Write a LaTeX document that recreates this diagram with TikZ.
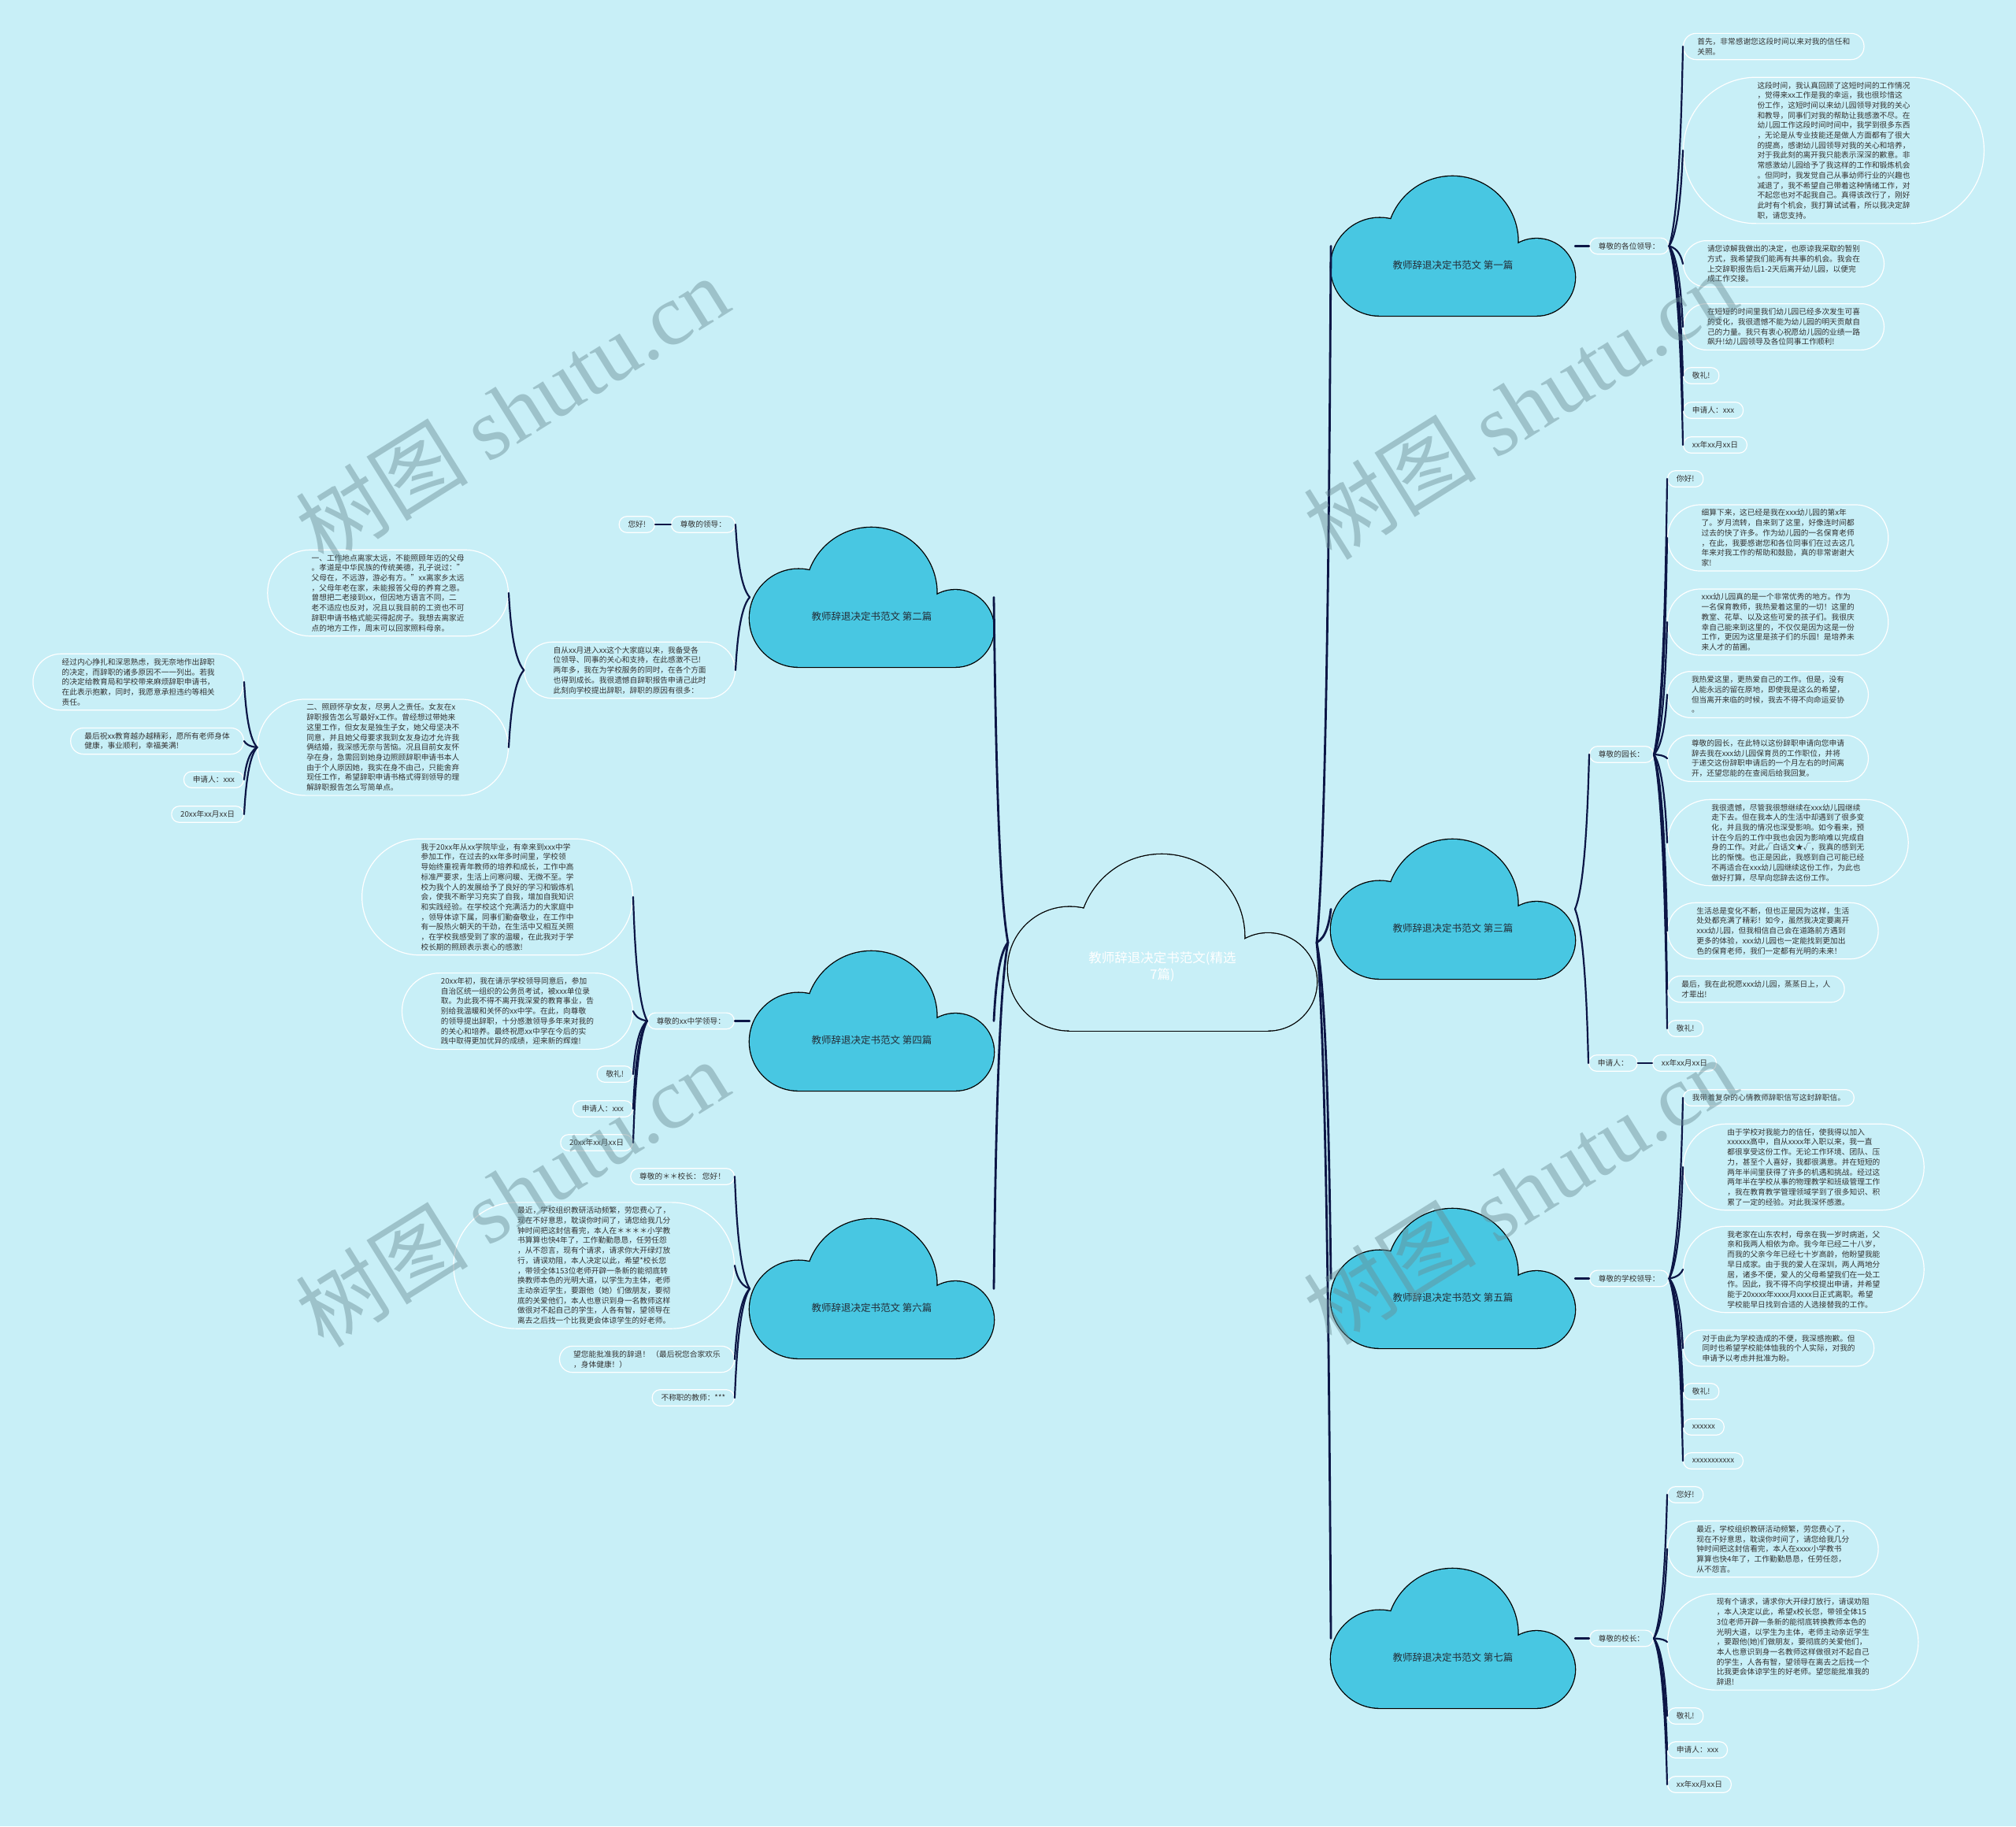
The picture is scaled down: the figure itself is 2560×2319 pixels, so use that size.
\documentclass[tikz,border=0pt]{standalone}
\usepackage{fontspec}
\setmainfont{Noto Sans CJK SC}
\newfontfamily\wmcjk{Noto Sans CJK SC}
\newfontfamily\wmlat{Liberation Serif}
\usetikzlibrary{calc}
\definecolor{bgc}{RGB}{200,239,247}
\definecolor{cloudblue}{RGB}{72,199,226}
\definecolor{lnkc}{RGB}{12,22,70}
\definecolor{txtc}{RGB}{51,51,51}
\definecolor{cldtxt}{RGB}{35,45,55}
\definecolor{wmc}{RGB}{105,140,148}
\newcommand\bubfont{\fontsize{9.7}{12.7}\selectfont}
\newcommand\cloudshape[4]{%
 \pgfmathsetmacro\cldS{#3/1175}%
 \pgfmathsetmacro\cldLx{#1+235*\cldS}%
 \pgfmathsetmacro\cldLy{#2+435*\cldS}%
 \pgfmathsetmacro\cldLr{235*\cldS}%
 \pgfmathsetmacro\cldBx{#1+585*\cldS}%
 \pgfmathsetmacro\cldBy{#2+315*\cldS}%
 \pgfmathsetmacro\cldBr{315*\cldS}%
 \pgfmathsetmacro\cldRx{#1+990*\cldS}%
 \pgfmathsetmacro\cldRy{#2+485*\cldS}%
 \pgfmathsetmacro\cldRr{185*\cldS}%
 \pgfmathsetmacro\cldBot{#2+670*\cldS}%
 \draw[line width=2.6pt,draw=black] (\cldLx,\cldLy) circle[radius=\cldLr pt] (\cldBx,\cldBy) circle[radius=\cldBr pt] (\cldRx,\cldRy) circle[radius=\cldRr pt] (\cldLx,\cldLy) rectangle (\cldRx,\cldBot);
 \fill[#4] (\cldLx,\cldLy) circle[radius=\cldLr pt];
 \fill[#4] (\cldBx,\cldBy) circle[radius=\cldBr pt];
 \fill[#4] (\cldRx,\cldRy) circle[radius=\cldRr pt];
 \fill[#4] (\cldLx,\cldLy) rectangle (\cldRx,\cldBot);
}
\newcommand\cnx[3][]{\draw[conn,#1] let \p1=(#2), \p2=(#3) in (\p1) .. controls ({\x1+0.7*(\x2-\x1)},{\y1+0.15*(\y2-\y1)}) and ({\x2-0.1*(\x2-\x1)},{\y2-0.35*(\y2-\y1)}) .. (\p2);}
\tikzset{
 bub/.style={rectangle, rounded corners={6.35*#1+3.6}, minimum height={12.7*#1+7.9}, inner xsep={6.35*#1+5}, inner ysep=3pt, draw=white, line width=1.2pt, font=\bubfont, text=txtc, align=left},
 bub/.default=1,
 rb/.style={bub=#1, anchor=west}, rb/.default=1,
 lb/.style={bub=#1, anchor=east}, lb/.default=1,
 conn/.style={draw=lnkc, line width=2.2pt, line cap=round, rounded corners=0pt},
 mainconn/.style={conn, line width=2.8pt},
 cloudbox/.style={rectangle, draw=none, inner sep=0pt, outer sep=0pt, minimum width=310pt, minimum height=176.8pt},
 cloudlbl/.style={text=cldtxt, font=\fontsize{12.5}{15}\selectfont, inner sep=0pt},
 wm/.style={rotate=32, text=wmc, text opacity=0.45, font=\fontsize{110}{110}\selectfont, inner sep=0pt}
}
\begin{document}
\begin{tikzpicture}[x=1pt,y=-1pt]
\useasboundingbox (0,0) rectangle (2560,2319);
\fill[bgc] (0,0) rectangle (2560,2319);

% clouds
\cloudshape{1280}{1085}{392}{bgc}
\cloudshape{1690}{224}{310}{cloudblue}
\cloudshape{1690}{1066}{310}{cloudblue}
\cloudshape{1690}{1535}{310}{cloudblue}
\cloudshape{1690}{1992}{310}{cloudblue}
\cloudshape{952}{670}{310}{cloudblue}
\cloudshape{952}{1208}{310}{cloudblue}
\cloudshape{952}{1548}{310}{cloudblue}

\node[cloudbox, minimum width=392pt, minimum height=223.5pt] (ctr) at (1476,1196.8) {};
\node[text=white, font=\fontsize{16.5}{21}\selectfont, align=center, inner sep=0pt] (ctrt) at (1476,1228) {教师辞退决定书范文(精选\\7篇)};

\node[cloudbox] (c1) at (1845,312.4) {};
\node[cloudbox] (c3) at (1845,1154.4) {};
\node[cloudbox] (c5) at (1845,1623.4) {};
\node[cloudbox] (c7) at (1845,2080.4) {};
\node[cloudbox] (c2) at (1107,758.4) {};
\node[cloudbox] (c4) at (1107,1296.4) {};
\node[cloudbox] (c6) at (1107,1636.4) {};
\node[cloudlbl] (c1t) at (1845,337) {教师辞退决定书范文 第一篇};
\node[cloudlbl] (c3t) at (1845,1179) {教师辞退决定书范文 第三篇};
\node[cloudlbl] (c5t) at (1845,1648) {教师辞退决定书范文 第五篇};
\node[cloudlbl] (c7t) at (1845,2105) {教师辞退决定书范文 第七篇};
\node[cloudlbl] (c2t) at (1107,783) {教师辞退决定书范文 第二篇};
\node[cloudlbl] (c4t) at (1107,1321) {教师辞退决定书范文 第四篇};
\node[cloudlbl] (c6t) at (1107,1661) {教师辞退决定书范文 第六篇};

% ---------- branch 1 ----------
\node[rb] (L1) at (2018,312.4) {尊敬的各位领导：};
\node[rb=2] (n11) at (2137,59) {首先，非常感谢您这段时间以来对我的信任和\\关照。};
\node[rb=14] (n12) at (2137,191) {这段时间，我认真回顾了这短时间的工作情况\\
，觉得来xx工作是我的幸运，我也很珍惜这\\
份工作，这短时间以来幼儿园领导对我的关心\\
和教导，同事们对我的帮助让我感激不尽。在\\
幼儿园工作这段时间时间中，我学到很多东西\\
，无论是从专业技能还是做人方面都有了很大\\
的提高，感谢幼儿园领导对我的关心和培养，\\
对于我此刻的离开我只能表示深深的歉意。非\\
常感激幼儿园给予了我这样的工作和锻炼机会\\
。但同时，我发觉自己从事幼师行业的兴趣也\\
减退了，我不希望自己带着这种情绪工作，对\\
不起您也对不起我自己。真得该改行了，刚好\\
此时有个机会，我打算试试看，所以我决定辞\\
职，请您支持。};
\node[rb=4] (n13) at (2137,335) {请您谅解我做出的决定，也原谅我采取的暂别\\
方式，我希望我们能再有共事的机会。我会在\\
上交辞职报告后1-2天后离开幼儿园，以便完\\
成工作交接。};
\node[rb=4] (n14) at (2137,415) {在短短的时间里我们幼儿园已经多次发生可喜\\
的变化，我很遗憾不能为幼儿园的明天贡献自\\
己的力量。我只有衷心祝愿幼儿园的业绩一路\\
飙升!幼儿园领导及各位同事工作顺利!};
\node[rb] (n15) at (2137,477) {敬礼!};
\node[rb] (n16) at (2137,521) {申请人：xxx};
\node[rb] (n17) at (2137,565) {xx年xx月xx日};

% ---------- branch 3 ----------
\node[rb] (L3a) at (2018,958) {尊敬的园长：};
\node[rb] (L3b) at (2017,1350) {申请人：};
\node[rb] (n3d) at (2098,1350) {xx年xx月xx日};
\node[rb] (n31) at (2117,608) {你好!};
\node[rb=6] (n32) at (2117,683) {细算下来，这已经是我在xxx幼儿园的第x年\\
了。岁月流转，自来到了这里，好像连时间都\\
过去的快了许多。作为幼儿园的一名保育老师\\
，在此，我要感谢您和各位同事们在过去这几\\
年来对我工作的帮助和鼓励，真的非常谢谢大\\
家!};
\node[rb=6] (n33) at (2117,790) {xxx幼儿园真的是一个非常优秀的地方。作为\\
一名保育教师，我热爱着这里的一切！这里的\\
教室、花草、以及这些可爱的孩子们。我很庆\\
幸自己能来到这里的，不仅仅是因为这是一份\\
工作，更因为这里是孩子们的乐园！是培养未\\
来人才的苗圃。};
\node[rb=4] (n34) at (2117,882) {我热爱这里，更热爱自己的工作。但是，没有\\
人能永远的留在原地，即使我是这么的希望，\\
但当离开来临的时候，我去不得不向命运妥协\\
。};
\node[rb=4] (n35) at (2117,963) {尊敬的园长，在此特以这份辞职申请向您申请\\
辞去我在xxx幼儿园保育员的工作职位，并将\\
于递交这份辞职申请后的一个月左右的时间离\\
开，还望您能的在查阅后给我回复。};
\node[rb=8] (n36) at (2117,1070) {我很遗憾，尽管我很想继续在xxx幼儿园继续\\
走下去。但在我本人的生活中却遇到了很多变\\
化，并且我的情况也深受影响。如今看来，预\\
计在今后的工作中我也会因为影响难以完成自\\
身的工作。对此√白话文★√，我真的感到无\\
比的惭愧。也正是因此，我感到自己可能已经\\
不再适合在xxx幼儿园继续这份工作，为此也\\
做好打算，尽早向您辞去这份工作。};
\node[rb=5] (n37) at (2117,1182) {生活总是变化不断，但也正是因为这样，生活\\
处处都充满了精彩！如今，虽然我决定要离开\\
xxx幼儿园，但我相信自己会在道路前方遇到\\
更多的体验，xxx幼儿园也一定能找到更加出\\
色的保育老师，我们一定都有光明的未来！};
\node[rb=2] (n38) at (2117,1256) {最后，我在此祝愿xxx幼儿园，蒸蒸日上，人\\
才辈出!};
\node[rb] (n39) at (2117,1306) {敬礼!};

% ---------- branch 5 ----------
\node[rb] (L5) at (2018,1623.4) {尊敬的学校领导：};
\node[rb] (n51) at (2137,1394) {我带着复杂的心情教师辞职信写这封辞职信。};
\node[rb=8] (n52) at (2137,1482) {由于学校对我能力的信任，使我得以加入\\
xxxxxx高中，自从xxxx年入职以来，我一直\\
都很享受这份工作。无论工作环境、团队、压\\
力，甚至个人喜好，我都很满意。并在短短的\\
两年半间里获得了许多的机遇和挑战。经过这\\
两年半在学校从事的物理教学和班级管理工作\\
，我在教育教学管理领域学到了很多知识、积\\
累了一定的经验。对此我深怀感激。};
\node[rb=8] (n53) at (2137,1612) {我老家在山东农村，母亲在我一岁时病逝，父\\
亲和我两人相依为命。我今年已经二十八岁，\\
而我的父亲今年已经七十岁高龄，他盼望我能\\
早日成家。由于我的爱人在深圳，两人两地分\\
居，诸多不便，爱人的父母希望我们在一处工\\
作。因此，我不得不向学校提出申请，并希望\\
能于20xxxx年xxxx月xxxx日正式离职。希望\\
学校能早日找到合适的人选接替我的工作。};
\node[rb=3] (n54) at (2137,1712) {对于由此为学校造成的不便，我深感抱歉。但\\
同时也希望学校能体恤我的个人实际，对我的\\
申请予以考虑并批准为盼。};
\node[rb] (n55) at (2137,1767) {敬礼!};
\node[rb] (n56) at (2137,1812) {xxxxxx};
\node[rb] (n57) at (2137,1855) {xxxxxxxxxxx};

% ---------- branch 7 ----------
\node[rb] (L7) at (2018,2080.4) {尊敬的校长：};
\node[rb] (n71) at (2117,1898) {您好!};
\node[rb=5] (n72) at (2117,1967) {最近，学校组织教研活动频繁，劳您费心了，\\
现在不好意思，耽误你时间了，请您给我几分\\
钟时间把这封信看完，本人在xxxx小学教书\\
算算也快4年了，工作勤勤恳恳，任劳任怨，\\
从不怨言。};
\node[rb=9] (n73) at (2117,2085) {现有个请求，请求你大开绿灯放行，请误劝阻\\
，本人决定以此，希望x校长您，带领全体15\\
3位老师开辟一条新的能彻底转换教师本色的\\
光明大道，以学生为主体，老师主动亲近学生\\
，要跟他(她)们做朋友，要彻底的关爱他们，\\
本人也意识到身一名教师这样做很对不起自己\\
的学生，人各有智，望领导在离去之后找一个\\
比我更会体谅学生的好老师。望您能批准我的\\
辞退!};
\node[rb] (n74) at (2117,2179) {敬礼!};
\node[rb] (n75) at (2117,2222) {申请人：xxx};
\node[rb] (n76) at (2117,2266) {xx年xx月xx日};

% ---------- branch 2 ----------
\node[lb] (L2) at (934,666) {尊敬的领导：};
\node[lb] (n2h) at (832,666) {您好!};
\node[lb=5] (n2a) at (934,851) {自从xx月进入xx这个大家庭以来，我备受各\\
位领导、同事的关心和支持，在此感激不已!\\
两年多，我在为学校服务的同时，在各个方面\\
也得到成长。我很遗憾自辞职报告申请己此时\\
此刻向学校提出辞职，辞职的原因有很多：};
\node[lb=8] (n2b) at (646,753) {一、工作地点离家太远，不能照顾年迈的父母\\
。孝道是中华民族的传统美德，孔子说过："\\
父母在，不远游，游必有方。"xx离家乡太远\\
，父母年老在家，未能报答父母的养育之恩。\\
曾想把二老接到xx，但因地方语言不同，二\\
老不适应也反对，况且以我目前的工资也不可\\
辞职申请书格式能买得起房子。我想去离家近\\
点的地方工作，周末可以回家照料母亲。};
\node[lb=9] (n2c) at (646,949) {二、照顾怀孕女友，尽男人之责任。女友在x\\
辞职报告怎么写最好x工作。曾经想过带她来\\
这里工作，但女友是独生子女，她父母坚决不\\
同意，并且她父母要求我到女友身边才允许我\\
俩结婚，我深感无奈与苦恼。况且目前女友怀\\
孕在身，急需回到她身边照顾辞职申请书本人\\
由于个人原因她，我实在身不由己，只能舍弃\\
现任工作，希望辞职申请书格式得到领导的理\\
解辞职报告怎么写简单点。};
\node[lb=5] (n2d) at (310,866) {经过内心挣扎和深思熟虑，我无奈地作出辞职\\
的决定，而辞职的诸多原因不一一列出。若我\\
的决定给教育局和学校带来麻烦辞职申请书，\\
在此表示抱歉，同时，我愿意承担违约等相关\\
责任。};
\node[lb=2] (n2e) at (310,941) {最后祝xx教育越办越精彩，愿所有老师身体\\
健康，事业顺利，幸福美满!};
\node[lb] (n2f) at (310,990) {申请人：xxx};
\node[lb] (n2g) at (310,1034) {20xx年xx月xx日};

% ---------- branch 4 ----------
\node[lb] (L4) at (933,1296.4) {尊敬的xx中学领导：};
\node[lb=11] (n41) at (804,1139) {我于20xx年从xx学院毕业，有幸来到xxx中学\\
参加工作，在过去的xx年多时间里，学校领\\
导始终重视青年教师的培养和成长，工作中高\\
标准严要求，生活上问寒问暖、无微不至。学\\
校为我个人的发展给予了良好的学习和锻炼机\\
会，使我不断学习充实了自我，增加自我知识\\
和实践经验。在学校这个充满活力的大家庭中\\
，领导体谅下属，同事们勤奋敬业，在工作中\\
有一股热火朝天的干劲，在生活中又相互关照\\
，在学校我感受到了家的温暖，在此我对于学\\
校长期的照顾表示衷心的感激!};
\node[lb=7] (n42) at (804,1284) {20xx年初，我在请示学校领导同意后，参加\\
自治区统一组织的公务员考试，被xxx单位录\\
取。为此我不得不离开我深爱的教育事业，告\\
别给我温暖和关怀的xx中学。在此，向尊敬\\
的领导提出辞职，十分感激领导多年来对我的\\
的关心和培养。最终祝愿xx中学在今后的实\\
践中取得更加优异的成绩，迎来新的辉煌!};
\node[lb] (n43) at (804,1364) {敬礼!};
\node[lb] (n44) at (804,1408) {申请人：xxx};
\node[lb] (n45) at (804,1451) {20xx年xx月xx日};

% ---------- branch 6 ----------
\node[lb] (n61) at (933,1494) {尊敬的＊＊校长： 您好！};
\node[lb=12] (n62) at (933,1607) {最近，学校组织教研活动频繁，劳您费心了，\\
现在不好意思，耽误你时间了，请您给我几分\\
钟时间把这封信看完，本人在＊＊＊＊小学教\\
书算算也快4年了，工作勤勤恳恳，任劳任怨\\
，从不怨言，现有个请求，请求你大开绿灯放\\
行，请误劝阻，本人决定以此，希望*校长您\\
，带领全体153位老师开辟一条新的能彻底转\\
换教师本色的光明大道，以学生为主体，老师\\
主动亲近学生，要跟他（她）们做朋友，要彻\\
底的关爱他们，本人也意识到身一名教师这样\\
做很对不起自己的学生，人各有智，望领导在\\
离去之后找一个比我更会体谅学生的好老师。};
\node[lb=2] (n63) at (933,1726) {望您能批准我的辞退！ （最后祝您合家欢乐\\
，身体健康！）};
\node[lb] (n64) at (933,1775) {不称职的教师：***};

% ---------- connectors ----------
\cnx[mainconn]{ctr.east}{c1.west}
\cnx[mainconn]{ctr.east}{c3.west}
\cnx[mainconn]{ctr.east}{c5.west}
\cnx[mainconn]{ctr.east}{c7.west}
\cnx[mainconn]{ctr.west}{c2.east}
\cnx[mainconn]{ctr.west}{c4.east}
\cnx[mainconn]{ctr.west}{c6.east}

\draw[conn] (c1.east) -- (L1.west);
\foreach \k in {n11,n12,n13,n14,n15,n16,n17} {\cnx{L1.east}{\k.west}}

\cnx{c3.east}{L3a.west}
\cnx{c3.east}{L3b.west}
\draw[conn] (L3b.east) -- (n3d.west);
\foreach \k in {n31,n32,n33,n34,n35,n36,n37,n38,n39} {\cnx{L3a.east}{\k.west}}

\draw[conn] (c5.east) -- (L5.west);
\foreach \k in {n51,n52,n53,n54,n55,n56,n57} {\cnx{L5.east}{\k.west}}

\draw[conn] (c7.east) -- (L7.west);
\foreach \k in {n71,n72,n73,n74,n75,n76} {\cnx{L7.east}{\k.west}}

\cnx{c2.west}{L2.east}
\cnx{c2.west}{n2a.east}
\draw[conn] (L2.west) -- (n2h.east);
\cnx{n2a.west}{n2b.east}
\cnx{n2a.west}{n2c.east}
\foreach \k in {n2d,n2e,n2f,n2g} {\cnx{n2c.west}{\k.east}}

\draw[conn] (c4.west) -- (L4.east);
\foreach \k in {n41,n42,n43,n44,n45} {\cnx{L4.west}{\k.east}}

\foreach \k in {n61,n62,n63,n64} {\cnx{c6.west}{\k.east}}

% ---------- watermarks ----------
\node[wm] (wm1) at (650,520) {{\wmcjk 树图} {\wmlat shutu.cn}};
\node[wm] (wm2) at (1930,515) {{\wmcjk 树图} {\wmlat shutu.cn}};
\node[wm] (wm3) at (650,1515) {{\wmcjk 树图} {\wmlat shutu.cn}};
\node[wm] (wm4) at (1930,1512) {{\wmcjk 树图} {\wmlat shutu.cn}};
\end{tikzpicture}
\end{document}
